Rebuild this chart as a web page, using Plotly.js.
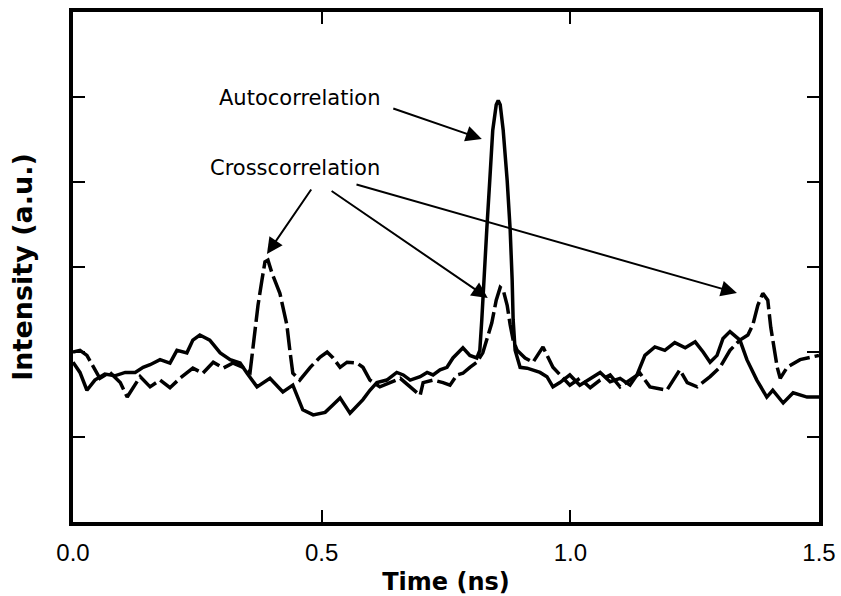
<!DOCTYPE html>
<html>
<head>
<meta charset="utf-8">
<script src="https://cdn.plot.ly/plotly-3.0.1.min.js"></script>
<style>html,body{margin:0;padding:0;background:#fff;}#chart{width:841px;height:596px;}</style>
</head>
<body>
<div id="chart"></div>
<script>
// Autocorrelation (solid) – time in ns, intensity in a.u.
var autoTime = [0, 0.014, 0.028, 0.044, 0.064, 0.084, 0.105, 0.125, 0.141, 0.155, 0.175, 0.195, 0.209, 0.229, 0.241, 0.255, 0.275, 0.296, 0.316, 0.336, 0.350, 0.370, 0.396, 0.422, 0.442, 0.462, 0.483, 0.507, 0.523, 0.537, 0.557, 0.583, 0.597, 0.611, 0.631, 0.651, 0.664, 0.678, 0.698, 0.712, 0.724, 0.738, 0.752, 0.764, 0.784, 0.798, 0.812, 0.818, 0.822, 0.826, 0.832, 0.838, 0.844, 0.851, 0.855, 0.859, 0.865, 0.873, 0.879, 0.883, 0.885, 0.889, 0.899, 0.913, 0.925, 0.939, 0.953, 0.965, 0.979, 0.999, 1.019, 1.040, 1.060, 1.080, 1.100, 1.120, 1.134, 1.150, 1.170, 1.190, 1.210, 1.231, 1.251, 1.267, 1.281, 1.295, 1.307, 1.321, 1.341, 1.355, 1.375, 1.395, 1.407, 1.428, 1.448, 1.476, 1.500];
var autoIntensity = [1.88, 1.76, 1.55, 1.67, 1.74, 1.72, 1.76, 1.76, 1.82, 1.85, 1.91, 1.87, 2.02, 1.99, 2.14, 2.20, 2.14, 1.99, 1.91, 1.87, 1.75, 1.59, 1.69, 1.53, 1.61, 1.32, 1.26, 1.29, 1.38, 1.46, 1.28, 1.44, 1.55, 1.64, 1.67, 1.76, 1.73, 1.67, 1.71, 1.76, 1.73, 1.79, 1.82, 1.93, 2.05, 1.96, 1.93, 2.02, 2.38, 2.85, 3.44, 4.02, 4.61, 4.91, 4.96, 4.91, 4.61, 4.02, 3.44, 2.85, 2.38, 2.02, 1.82, 1.81, 1.79, 1.76, 1.71, 1.59, 1.64, 1.73, 1.61, 1.69, 1.76, 1.65, 1.69, 1.61, 1.73, 1.96, 2.06, 2.02, 2.11, 2.05, 2.12, 2.00, 1.88, 1.96, 2.16, 2.24, 2.14, 1.91, 1.67, 1.47, 1.55, 1.40, 1.52, 1.47, 1.47];

// Crosscorrelation (dashed)
var crossTime = [0, 0.014, 0.028, 0.038, 0.054, 0.074, 0.095, 0.109, 0.125, 0.135, 0.155, 0.175, 0.195, 0.215, 0.241, 0.261, 0.282, 0.302, 0.322, 0.342, 0.356, 0.366, 0.372, 0.380, 0.386, 0.392, 0.400, 0.416, 0.424, 0.430, 0.436, 0.442, 0.456, 0.477, 0.497, 0.511, 0.523, 0.537, 0.551, 0.571, 0.583, 0.597, 0.617, 0.637, 0.658, 0.678, 0.698, 0.704, 0.724, 0.744, 0.758, 0.772, 0.784, 0.798, 0.812, 0.824, 0.832, 0.842, 0.851, 0.859, 0.865, 0.873, 0.879, 0.885, 0.893, 0.909, 0.925, 0.945, 0.965, 0.979, 0.999, 1.019, 1.040, 1.060, 1.080, 1.100, 1.120, 1.140, 1.160, 1.194, 1.220, 1.235, 1.255, 1.281, 1.301, 1.321, 1.341, 1.357, 1.367, 1.377, 1.387, 1.397, 1.403, 1.410, 1.416, 1.422, 1.436, 1.462, 1.482, 1.500];
var crossIntensity = [2.00, 2.02, 1.96, 1.85, 1.69, 1.76, 1.64, 1.47, 1.61, 1.71, 1.59, 1.67, 1.58, 1.69, 1.81, 1.75, 1.88, 1.81, 1.87, 1.82, 1.76, 2.29, 2.55, 2.85, 3.06, 3.08, 2.93, 2.69, 2.49, 2.32, 2.02, 1.75, 1.67, 1.82, 1.94, 2.00, 1.93, 1.82, 1.88, 1.87, 1.82, 1.67, 1.59, 1.64, 1.69, 1.59, 1.49, 1.64, 1.67, 1.64, 1.61, 1.73, 1.75, 1.82, 1.88, 1.99, 2.14, 2.34, 2.61, 2.76, 2.73, 2.55, 2.32, 2.14, 2.02, 1.93, 1.88, 2.06, 1.82, 1.73, 1.61, 1.69, 1.58, 1.67, 1.73, 1.59, 1.67, 1.75, 1.59, 1.55, 1.79, 1.64, 1.59, 1.71, 1.82, 2.02, 2.14, 2.20, 2.32, 2.55, 2.69, 2.61, 2.29, 2.06, 1.82, 1.69, 1.82, 1.91, 1.94, 1.96];

var xTickVals = [0, 0.5, 1.0, 1.5];
var xTickText = ["0.0", "0.5", "1.0", "1.5"];
var yTickVals = [1, 2, 3, 4, 5];

var traces = [
  {x: autoTime, y: autoIntensity, type: 'scatter', mode: 'lines', name: 'Autocorrelation',
   line: {color: '#000', width: 3.5, shape: 'linear'}},
  {x: crossTime, y: crossIntensity, type: 'scatter', mode: 'lines', name: 'Crosscorrelation',
   line: {color: '#000', width: 3.5, dash: '22px,5px'}}
];

var annFont = {family: 'DejaVu Sans, sans-serif', size: 21, color: '#000'};
function arrow(hx, hy, tx, ty) {
  return {x: hx, y: hy, ax: tx, ay: ty, xref: 'x', yref: 'y', axref: 'x', ayref: 'y',
          text: '', showarrow: true, arrowhead: 2, arrowsize: 1.6, arrowwidth: 2, arrowcolor: '#000'};
}

var layout = {
  width: 841, height: 596,
  margin: {l: 73, r: 22, t: 12, b: 74},
  paper_bgcolor: '#fff', plot_bgcolor: '#fff',
  showlegend: false,
  font: {family: 'DejaVu Sans, sans-serif', color: '#000'},
  xaxis: {
    range: [0, 1.5], tickvals: xTickVals, ticktext: xTickText,
    ticks: 'inside', ticklen: 12, tickwidth: 2, tickcolor: '#000',
    showline: true, linewidth: 4, linecolor: '#000', mirror: 'ticks',
    showgrid: false, zeroline: false,
    tickfont: {family: 'Liberation Sans, Arial, sans-serif', size: 24, color: '#000'},
    ticklabelstandoff: 6,
    title: {text: 'Time (ns)', font: {family: 'DejaVu Sans, sans-serif', size: 24, weight: 'bold', color: '#000'}, standoff: 12}
  },
  yaxis: {
    range: [0, 6], tickvals: yTickVals, showticklabels: false,
    ticks: 'inside', ticklen: 12, tickwidth: 2, tickcolor: '#000',
    showline: true, linewidth: 4, linecolor: '#000', mirror: 'ticks',
    showgrid: false, zeroline: false,
    title: {text: 'Intensity (a.u.)', font: {family: 'DejaVu Sans, sans-serif', size: 27, weight: 'bold', color: '#000'}, standoff: 30}
  },
  annotations: [
    {x: 0.456, y: 4.99, xref: 'x', yref: 'y', text: 'Autocorrelation', showarrow: false, font: annFont},
    {x: 0.446, y: 4.165, xref: 'x', yref: 'y', text: 'Crosscorrelation', showarrow: false, font: annFont},
    arrow(0.822, 4.506, 0.641, 4.871),
    arrow(0.390, 3.153, 0.481, 3.929),
    arrow(0.834, 2.635, 0.517, 3.906),
    arrow(1.335, 2.694, 0.567, 3.976)
  ]
};

Plotly.newPlot('chart', traces, layout, {displayModeBar: false, staticPlot: true});
</script>
</body>
</html>
